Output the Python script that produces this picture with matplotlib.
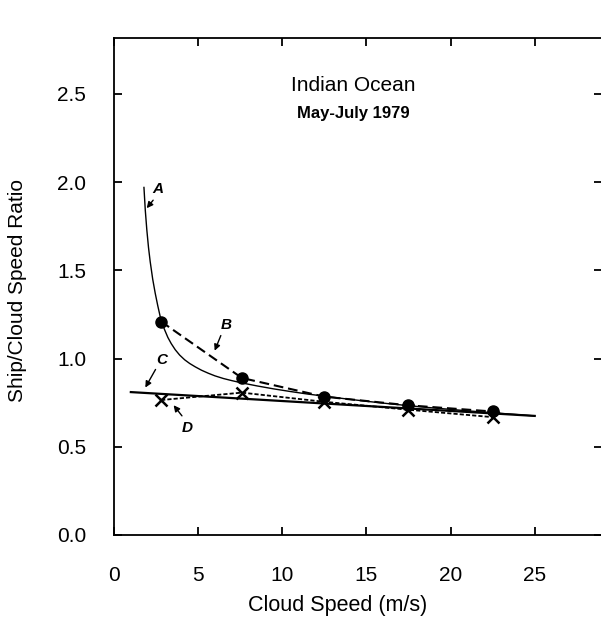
import matplotlib
matplotlib.use("Agg")
import matplotlib.pyplot as plt

plt.rcParams['font.family'] = ['Liberation Sans', 'DejaVu Sans']
plt.rcParams['lines.scale_dashes'] = False

# Curve A (solid thin)
a_x = [1.78, 1.86, 1.95, 2.05, 2.15, 2.3, 2.45, 2.6, 2.8, 3.0, 3.2, 3.4, 3.64, 3.9, 4.2,
       4.5, 4.83, 5.2, 5.6, 6.0, 6.5, 7.0, 7.6, 8.5, 9.5, 10.5, 11.5, 12.5, 13.75, 15.0,
       16.25, 17.5, 18.75, 20.0, 21.25, 22.5, 23.75, 25.0]
a_y = [1.97, 1.84, 1.73, 1.63, 1.55, 1.45, 1.37, 1.30, 1.215, 1.165, 1.12, 1.085, 1.05, 1.02, 0.993,
       0.972, 0.953, 0.934, 0.917, 0.902, 0.887, 0.875, 0.862, 0.845, 0.828, 0.813, 0.799, 0.787, 0.772, 0.758,
       0.745, 0.733, 0.722, 0.712, 0.702, 0.693, 0.684, 0.675]

# B: filled circles (long dash)
b_x = [2.8, 7.6, 12.5, 17.5, 22.5]
b_y = [1.21, 0.89, 0.784, 0.735, 0.700]

# C: straight line (solid thick)
c_x = [1.0, 25.0]
c_y = [0.81, 0.675]

# D: crosses (short dash)
d_x = [2.8, 7.6, 12.5, 17.5, 22.5]
d_y = [0.765, 0.807, 0.755, 0.71, 0.668]

xticks = [0, 5, 10, 15, 20, 25]
yticks = [0.0, 0.5, 1.0, 1.5, 2.0, 2.5]

fig = plt.figure(figsize=(6.01, 6.26), dpi=100)
ax = fig.add_axes([114/601, (626-535)/626, 488/601, (535-38)/626])

ax.plot(a_x, a_y, color='black', lw=1.0)
ax.plot(c_x, c_y, color='black', lw=1.6)
ax.plot(b_x, b_y, color='black', lw=1.5, dashes=(7, 3.5), marker='o', ms=8)
ax.plot(d_x, d_y, color='black', lw=1.3, dashes=(3, 1.5), marker='x', ms=8, mew=1.8)

ax.set_xlim(0, 29)
ax.set_ylim(0, 2.817)
ax.set_xticks(xticks)
ax.set_xticklabels([str(v) for v in xticks])
ax.set_yticks(yticks)
ax.set_yticklabels([f"{v:.1f}" for v in yticks])
ax.tick_params(direction='in', length=6, width=1.3, labelsize=15,
               top=True, right=True)
ax.tick_params(axis='x', pad=22)
ax.tick_params(axis='y', pad=20)
for s in ax.spines.values():
    s.set_linewidth(1.3)

ax.set_xlabel('Cloud Speed (m/s)', fontsize=15.5)
ax.xaxis.set_label_coords((337-114)/487, (535-606)/497)
ax.xaxis.label.set_va('center')
ax.set_ylabel('Ship/Cloud Speed Ratio', fontsize=15)
ax.yaxis.set_label_coords((18-114)/487, (535-290)/497)
ax.yaxis.label.set_va('center')

ax.text(14.2, 2.55, 'Indian Ocean', fontsize=15, ha='center', va='center')
ax.text(14.2, 2.39, 'May-July 1979', fontsize=12, fontweight='bold', ha='center', va='center')

lab = dict(fontsize=11, fontweight='bold', fontstyle='italic', ha='center', va='center')
arr = dict(arrowstyle='-|>', color='black', lw=1.0, mutation_scale=9)
ax.annotate('', xy=(1.84, 1.84), xytext=(2.43, 1.91), arrowprops=arr)
ax.text(2.6, 1.96, 'A', **lab)
ax.annotate('', xy=(5.92, 1.03), xytext=(6.41, 1.145), arrowprops=arr)
ax.text(6.65, 1.19, 'B', **lab)
ax.annotate('', xy=(1.78, 0.822), xytext=(2.55, 0.952), arrowprops=arr)
ax.text(2.85, 0.99, 'C', **lab)
ax.annotate('', xy=(3.44, 0.748), xytext=(4.14, 0.663), arrowprops=arr)
ax.text(4.33, 0.607, 'D', **lab)

fig.savefig('out.png', dpi=100)
